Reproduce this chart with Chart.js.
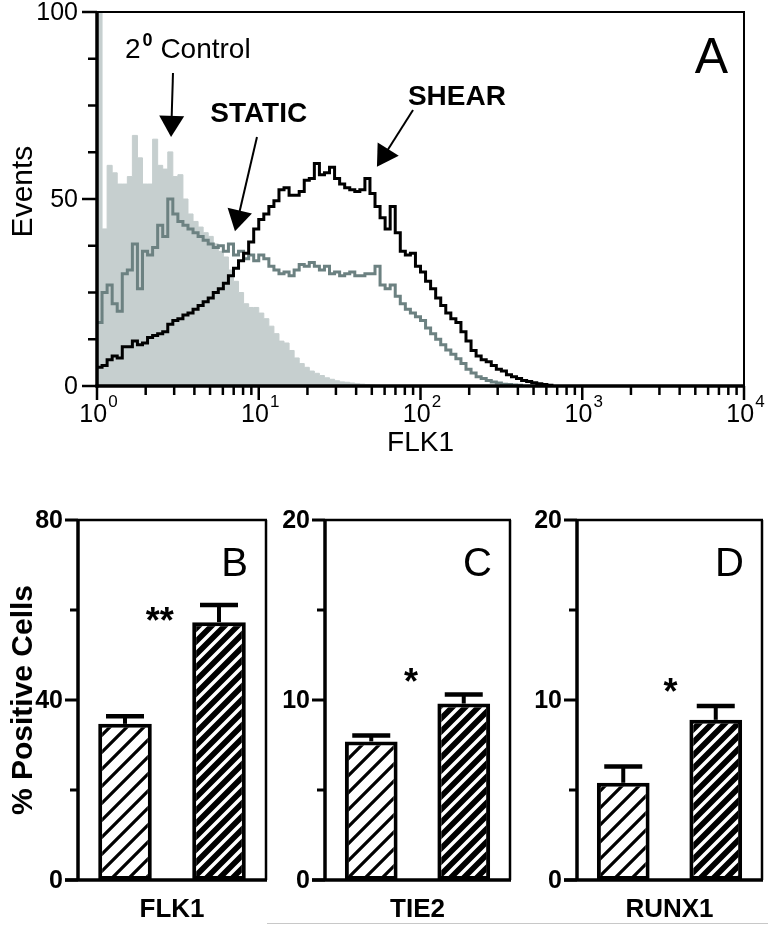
<!DOCTYPE html>
<html>
<head>
<meta charset="utf-8">
<title>FLK1 histogram and % positive cells</title>
<script src="https://cdn.jsdelivr.net/npm/chart.js@4.4.1/dist/chart.umd.min.js"></script>
<style>
  body { margin: 0; background: #fff; }
  #page { position: relative; width: 768px; height: 927px; overflow: hidden; background: #fff; }
  canvas { position: absolute; }
  #edge { position: absolute; left: 267px; top: 923px; width: 501px; height: 0; border-top: 1px solid #c8c8c8; }
</style>
</head>
<body>
<div id="page">
  <canvas id="histogram" width="768" height="480" style="left:0;top:0"></canvas>
  <canvas id="flk1" width="290" height="447" style="left:0;top:480px"></canvas>
  <canvas id="tie2" width="250" height="447" style="left:270px;top:480px"></canvas>
  <canvas id="runx1" width="248" height="447" style="left:520px;top:480px"></canvas>
  <div id="edge"></div>
</div>
<script>
// ---- panel A: flow histogram, 32 channels per decade, counts ----
const channelsPerDecade = 32;

const controlCounts = [
  100, 42, 59, 57, 54, 54, 56, 67, 61, 54,
  54, 66, 59, 58, 62.6, 56, 56.5, 50, 46, 44,
  42.5, 41, 40, 38, 36, 34.5, 31, 28, 25, 22,
  21, 21, 19.5, 18, 16, 14, 12, 11.5, 9.5, 7.5,
  6, 5, 4, 3.4, 2.8, 2.2, 1.8, 1.4, 1.1, 1.0,
  0.8, 0.6, 0.5, 0.4, 0.3, 0.2, 0.1
];

const staticCounts = [
  17, 25, 27, 22, 20, 30, 31, 38, 26, 36,
  35, 37, 43, 40, 50, 46, 44, 43, 42, 41,
  40, 39, 38, 37, 37.5, 36, 38, 35, 36, 34,
  35, 33.5, 35, 34, 32, 31, 30, 30.5, 29.5, 31,
  32.5, 32, 33, 32, 31, 32, 30, 30.5, 29.5, 30,
  30.5, 29.5, 29.5, 30, 30, 32, 27, 26, 27, 24,
  22, 20.5, 19.5, 18.5, 17.5, 15.5, 14, 12.5, 11, 9.6,
  8.5, 7.3, 6, 4.5, 3.5, 2.5, 2, 1.5, 1.1, 0.8,
  0.5, 0.4, 0.3, 0.2
];

const shearCounts = [
  5, 5.5, 7, 8, 7.5, 10.5, 10.5, 12, 11, 11.5,
  13, 13.5, 14, 14.5, 16.5, 17.5, 18, 19, 19.5, 20.5,
  21.5, 22.5, 23.5, 25, 26, 27.5, 29.5, 31.5, 33.5, 35.5,
  38.5, 42, 44.5, 46, 48, 49.5, 52.5, 53, 51, 51,
  52, 55, 55.5, 59.5, 56.5, 57, 58.5, 55.5, 54, 53,
  52.5, 52, 52.5, 55.5, 51.5, 48, 45, 42, 48, 41,
  36, 35, 35.5, 32, 30.5, 28, 26, 23.5, 21.5, 19.5,
  18, 17, 14.5, 12, 9.5, 8, 7, 6.5, 5.5, 4.5,
  4, 3, 2.5, 2, 1.5, 1.2, 0.9, 0.6, 0.4, 0.2
];

const eventTicks = [0, 12.5, 25, 37.5, 50, 62.5, 75, 87.5, 100];
const eventLabels = [0, 50, 100];
const fluorDecades = [1, 10, 100, 1000, 10000];
const decadeExponents = ['0', '1', '2', '3', '4'];
const minorMultiples = [2, 3, 4, 5, 6, 7, 8, 9];

// ---- panels B-D: % positive cells, mean + error ----
const barCategories = ['STATIC', 'SHEAR'];
const flk1Values = [34.7, 57.3];
const flk1Errors = [1.7, 3.8];
const tie2Values = [7.7, 9.8];
const tie2Errors = [0.33, 0.5];
const runx1Values = [5.4, 8.9];
const runx1Errors = [0.9, 0.77];
const flk1Ticks = [0, 20, 40, 60, 80];
const flk1TickLabels = [0, 40, 80];
const smallTicks = [0, 5, 10, 15, 20];
const smallTickLabels = [0, 10, 20];

const SANS = "'Liberation Sans', Arial, Helvetica, sans-serif";

function stroke(ctx, x0, y0, x1, y1, w) {
  ctx.lineWidth = w;
  ctx.beginPath();
  ctx.moveTo(x0, y0);
  ctx.lineTo(x1, y1);
  ctx.stroke();
}

function arrow(ctx, x0, y0, x1, y1) {
  const len = Math.hypot(x1 - x0, y1 - y0);
  const ux = (x1 - x0) / len, uy = (y1 - y0) / len;
  const hl = 21, hw = 12.5;
  const bx = x1 - ux * hl, by = y1 - uy * hl;
  stroke(ctx, x0, y0, bx + ux, by + uy, 2);
  ctx.beginPath();
  ctx.moveTo(x1, y1);
  ctx.lineTo(bx - uy * hw, by + ux * hw);
  ctx.lineTo(bx + uy * hw, by - ux * hw);
  ctx.closePath();
  ctx.fill();
}

function toPoints(counts) {
  const pts = counts.map((c, i) => ({ x: Math.pow(10, i / channelsPerDecade), y: c }));
  pts.push({ x: Math.pow(10, counts.length / channelsPerDecade), y: 0 });
  return pts;
}

const histogramDecor = {
  id: 'histogramDecor',
  afterDraw(chart) {
    const { ctx, chartArea: a, scales: { x, y } } = chart;
    ctx.save();
    ctx.strokeStyle = '#000';
    ctx.fillStyle = '#000';

    // frame: heavy axes left/bottom, light box top/right
    stroke(ctx, a.left, a.top, a.right + 1, a.top, 2);
    stroke(ctx, a.right, a.top, a.right, a.bottom, 2);
    stroke(ctx, a.left, a.top - 1, a.left, a.bottom + 1.5, 3.5);
    stroke(ctx, a.left - 1.5, a.bottom, a.right + 1, a.bottom, 3.5);

    // y ticks + labels
    ctx.font = '25px ' + SANS;
    ctx.textAlign = 'right';
    ctx.textBaseline = 'middle';
    eventTicks.forEach(v => {
      const py = y.getPixelForValue(v);
      const major = eventLabels.includes(v);
      stroke(ctx, a.left - (major ? 15 : 9), py, a.left, py, 2.5);
      if (major) ctx.fillText(String(v), a.left - 19, py + 1);
    });

    // x ticks (log decades + minor)
    fluorDecades.forEach((d, k) => {
      const px = x.getPixelForValue(d);
      stroke(ctx, px, a.bottom, px, a.bottom + 14, 2.5);
      if (k < fluorDecades.length - 1) {
        minorMultiples.forEach(m => {
          const mx = x.getPixelForValue(d * m);
          stroke(ctx, mx, a.bottom, mx, a.bottom + 9, 2.5);
        });
      }
      ctx.textBaseline = 'alphabetic';
      ctx.textAlign = 'left';
      ctx.font = '25px ' + SANS;
      const w10 = ctx.measureText('10').width;
      ctx.font = '17px ' + SANS;
      const we = ctx.measureText(decadeExponents[k]).width;
      const sx = px - (w10 + we) / 2 + 1;
      ctx.font = '25px ' + SANS;
      ctx.fillText('10', sx, a.bottom + 36);
      ctx.font = '17px ' + SANS;
      ctx.fillText(decadeExponents[k], sx + w10 + 1, a.bottom + 21);
    });

    // axis titles
    ctx.textAlign = 'center';
    ctx.font = '28px ' + SANS;
    ctx.fillText('FLK1', (a.left + a.right) / 2, a.bottom + 65);
    ctx.save();
    ctx.translate(32, y.getPixelForValue(52));
    ctx.rotate(-Math.PI / 2);
    ctx.font = '30px ' + SANS;
    ctx.fillText('Events', 0, 0);
    ctx.restore();

    // annotations (data coordinates)
    const P = (vx, vy) => [x.getPixelForValue(vx), y.getPixelForValue(vy)];
    let [tx, ty] = P(1.49, 87.7);
    ctx.textAlign = 'left';
    ctx.font = '28px ' + SANS;
    ctx.fillText('2', tx, ty);
    const w2 = ctx.measureText('2').width;
    ctx.font = 'bold 18px ' + SANS;
    ctx.fillText('0', tx + w2 + 2, ty - 12);
    const w0 = ctx.measureText('0').width;
    ctx.font = '28px ' + SANS;
    ctx.fillText(' Control', tx + w2 + w0 + 2, ty);

    ctx.textAlign = 'center';
    ctx.font = 'bold 28px ' + SANS;
    [tx, ty] = P(10, 70.6);
    ctx.fillText('STATIC', tx, ty);
    [tx, ty] = P(168, 75.1);
    ctx.fillText('SHEAR', tx, ty);

    arrow(ctx, ...P(2.95, 83.7), ...P(2.87, 66.6));
    arrow(ctx, ...P(9.75, 66.6), ...P(7.13, 41.4));
    arrow(ctx, ...P(89.9, 73.8), ...P(53.8, 58.6));

    ctx.textAlign = 'right';
    ctx.font = '50px ' + SANS;
    ctx.fillText('A', a.right - 16, a.top + 61);
    ctx.restore();
  }
};

new Chart(document.getElementById('histogram'), {
  type: 'line',
  data: {
    datasets: [
      { label: '2\u00b0 Control', data: toPoints(controlCounts), stepped: true, fill: 'origin',
        backgroundColor: '#c6cfcf', borderColor: '#c6cfcf', borderWidth: 1, pointRadius: 0, order: 3 },
      { label: 'STATIC', data: toPoints(staticCounts), stepped: true, fill: false,
        borderColor: '#6c8181', borderWidth: 3, pointRadius: 0, order: 2 },
      { label: 'SHEAR', data: toPoints(shearCounts), stepped: true, fill: false,
        borderColor: '#000000', borderWidth: 3, pointRadius: 0, order: 1 }
    ]
  },
  options: {
    responsive: false,
    animation: false,
    layout: { padding: { left: 97, top: 12, right: 24, bottom: 94 } },
    plugins: { legend: { display: false }, tooltip: { enabled: false } },
    scales: {
      x: { type: 'logarithmic', min: 1, max: 10000, display: false },
      y: { type: 'linear', min: 0, max: 100, display: false }
    }
  },
  plugins: [histogramDecor]
});

// ---- hatched bar panels ----
function hatch(bg, fg, size, width) {
  const c = document.createElement('canvas');
  c.width = c.height = size;
  const g = c.getContext('2d');
  g.fillStyle = bg;
  g.fillRect(0, 0, size, size);
  g.strokeStyle = fg;
  g.lineWidth = width;
  g.beginPath();
  g.moveTo(-size, 2 * size); g.lineTo(2 * size, -size);
  g.moveTo(-size, size); g.lineTo(size, -size);
  g.moveTo(0, 2 * size); g.lineTo(2 * size, 0);
  g.stroke();
  return g.createPattern(c, 'repeat');
}

function barPanel(id, opts) {
  const decor = {
    id: 'barDecor',
    afterDraw(chart) {
      const { ctx, chartArea: a, scales: { x, y } } = chart;
      ctx.save();
      ctx.strokeStyle = '#000';
      ctx.fillStyle = '#000';

      // error bars (upper only)
      chart.getDatasetMeta(0).data.forEach((bar, i) => {
        const top = y.getPixelForValue(opts.values[i] + opts.errors[i]);
        stroke(ctx, bar.x, bar.y, bar.x, top, 4);
        stroke(ctx, bar.x - 19, top, bar.x + 19, top, 4.5);
      });

      // frame
      stroke(ctx, a.left, a.top, a.right + 1, a.top, 2.5);
      stroke(ctx, a.right, a.top, a.right, a.bottom, 2.5);
      stroke(ctx, a.left, a.top - 1, a.left, a.bottom, 3.5);
      stroke(ctx, a.left - 13, a.bottom, a.right + 1, a.bottom, 3.5);

      ctx.font = 'bold 25px ' + SANS;
      ctx.textAlign = 'right';
      ctx.textBaseline = 'middle';
      opts.ticks.forEach(v => {
        const py = y.getPixelForValue(v);
        const major = opts.tickLabels.includes(v);
        stroke(ctx, a.left - (major ? 13 : 8), py, a.left, py, 3);
        if (major) ctx.fillText(String(v), a.left - 15, py + 1);
      });

      ctx.textBaseline = 'alphabetic';
      ctx.textAlign = 'center';
      ctx.font = 'bold 26px ' + SANS;
      ctx.fillText(opts.gene, (a.left + a.right) / 2, a.bottom + 37);

      // significance stars
      ctx.font = 'bold 36px ' + SANS;
      ctx.fillText(opts.stars, x.getPixelForValue(opts.starAt[0]), y.getPixelForValue(opts.starAt[1]) + 21);

      ctx.textAlign = 'right';
      ctx.font = '40px ' + SANS;
      ctx.fillText(opts.letter, a.right - 18, a.top + 56);

      if (opts.yTitle) {
        ctx.save();
        ctx.translate(32, (a.top + a.bottom) / 2);
        ctx.rotate(-Math.PI / 2);
        ctx.textAlign = 'center';
        ctx.font = 'bold 30px ' + SANS;
        ctx.fillText(opts.yTitle, 0, 0);
        ctx.restore();
      }
      ctx.restore();
    }
  };

  new Chart(document.getElementById(id), {
    type: 'bar',
    data: {
      labels: barCategories,
      datasets: [{
        data: opts.values,
        backgroundColor: [hatch('#ffffff', '#000000', 17, 3.2), hatch('#000000', '#ffffff', 13, 3.5)],
        borderColor: '#000000',
        borderWidth: 4,
        borderSkipped: false,
        barPercentage: 0.57,
        categoryPercentage: 1
      }]
    },
    options: {
      responsive: false,
      animation: false,
      layout: { padding: opts.padding },
      plugins: { legend: { display: false }, tooltip: { enabled: false } },
      scales: {
        x: { display: false },
        y: { display: false, min: 0, max: opts.max }
      }
    },
    plugins: [decor]
  });
}

barPanel('flk1', {
  values: flk1Values, errors: flk1Errors, max: 80, ticks: flk1Ticks, tickLabels: flk1TickLabels,
  gene: 'FLK1', letter: 'B', stars: '**', starAt: [0.37, 59.6], yTitle: '% Positive Cells',
  padding: { left: 78, top: 40, right: 24, bottom: 47 }
});
barPanel('tie2', {
  values: tie2Values, errors: tie2Errors, max: 20, ticks: smallTicks, tickLabels: smallTickLabels,
  gene: 'TIE2', letter: 'C', stars: '*', starAt: [0.43, 11.5],
  padding: { left: 55, top: 40, right: 10, bottom: 47 }
});
barPanel('runx1', {
  values: runx1Values, errors: runx1Errors, max: 20, ticks: smallTicks, tickLabels: smallTickLabels,
  gene: 'RUNX1', letter: 'D', stars: '*', starAt: [0.51, 10.94],
  padding: { left: 57, top: 40, right: 6, bottom: 47 }
});
</script>
</body>
</html>
